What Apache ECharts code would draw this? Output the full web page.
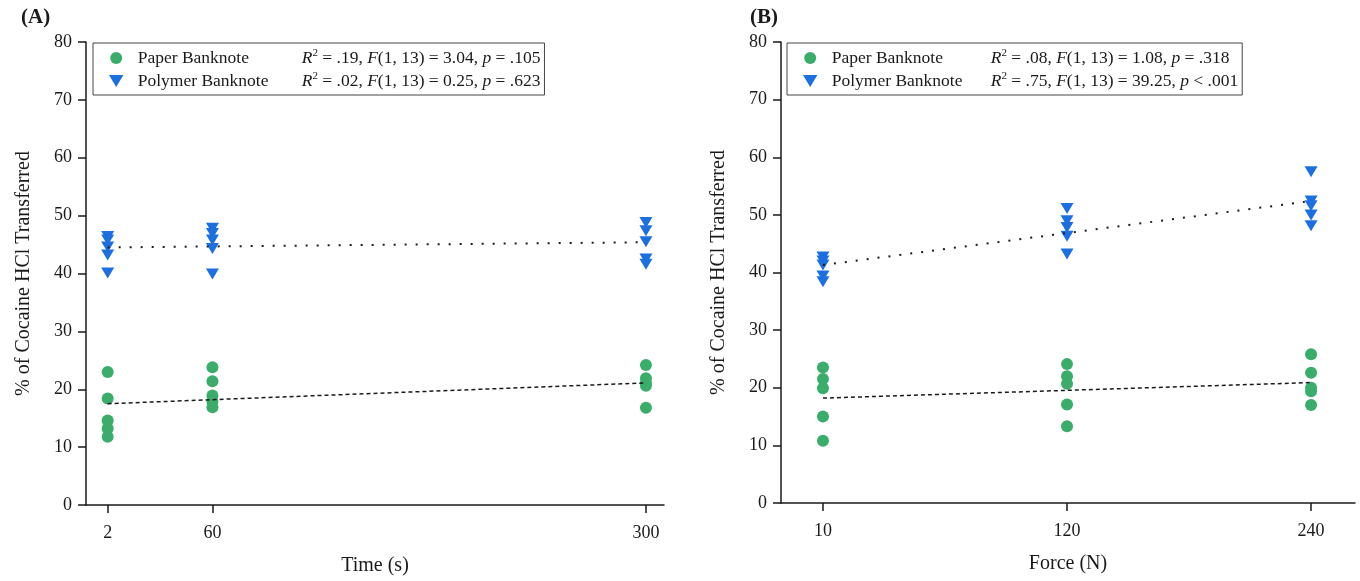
<!DOCTYPE html>
<html>
<head>
<meta charset="utf-8">
<script src="https://cdn.jsdelivr.net/npm/echarts@6/dist/echarts.min.js"></script>
<style>html,body{margin:0;padding:0;background:#fff}#c{width:1360px;height:581px}</style>
</head>
<body>
<div id="c"></div>
<script>
// ---- data ----
const timeTicks = [2, 60, 300];
const forceLabels = ['10', '120', '240'];
const yTicks = [0, 10, 20, 30, 40, 50, 60, 70, 80];

const paperA = [[23.0, 18.4, 14.6, 13.2, 11.8], [23.8, 21.4, 18.9, 17.9, 16.9], [24.2, 21.9, 21.1, 20.6, 16.8]];
const polymerA = [[46.4, 45.8, 44.6, 43.2, 40.1], [47.8, 46.9, 45.8, 44.3, 39.9], [48.8, 47.4, 45.5, 42.5, 41.6]];
const paperB = [[23.5, 21.5, 19.9, 15.0, 10.8], [24.1, 22.0, 20.7, 17.1, 13.3], [25.8, 22.6, 20.0, 19.4, 17.0]];
const polymerB = [[42.7, 42.0, 41.3, 39.4, 38.4], [51.1, 49.0, 47.8, 46.3, 43.2], [57.5, 52.4, 51.6, 50.0, 48.1]];

const trendPaperA = [17.5, 21.1];     // at time 2 and 300
const trendPolymerA = [44.5, 45.4];
const trendPaperB = [18.2, 20.9];     // at force 10 and 240
const trendPolymerB = [41.3, 52.4];

const statsA = {
  'Paper Banknote': ['.19', '3.04', '= .105'],
  'Polymer Banknote': ['.02', '0.25', '= .623']
};
const statsB = {
  'Paper Banknote': ['.08', '1.08', '= .318'],
  'Polymer Banknote': ['.75', '39.25', '< .001']
};

// ---- helpers ----
const GREEN = '#3aad6b';
const BLUE = '#1b6fe0';
const INK = '#1a1a1a';
const FONT = '"Liberation Serif", "Times New Roman", serif';
const TRI = 'path://M0,0 L12,0 L6,10 Z';

function pairs(xs, groups) {
  const out = [];
  groups.forEach((g, i) => g.forEach(v => out.push([xs[i], v])));
  return out;
}

const chart = echarts.init(document.getElementById('c'), null, {renderer: 'canvas'});

function yAxis(gi) {
  return {
    type: 'value', gridIndex: gi, min: 0, max: 80, interval: 10,
    name: '% of Cocaine HCl Transferred', nameLocation: 'middle', nameGap: 52,
    nameTextStyle: {fontFamily: FONT, fontSize: 20, color: INK},
    axisLine: {show: true, onZero: false, lineStyle: {color: INK, width: 1.5}},
    axisTick: {show: true, length: 8, lineStyle: {color: INK, width: 1.5}},
    axisLabel: {fontFamily: FONT, fontSize: 18, color: INK, margin: 14},
    splitLine: {show: false}
  };
}

function legendRich(nameWidth) {
  return {
    n: {fontFamily: FONT, fontSize: 17.5, color: INK, width: nameWidth, lineHeight: 20},
    t: {fontFamily: FONT, fontSize: 17.5, color: INK, lineHeight: 20},
    i: {fontFamily: FONT, fontSize: 17.5, color: INK, fontStyle: 'italic', lineHeight: 20},
    s: {fontFamily: FONT, fontSize: 11, color: INK, lineHeight: 20, verticalAlign: 'top'}
  };
}

function legendFmt(stats) {
  return function (name) {
    const s = stats[name];
    return '{n|' + name + '}{i|R}{s|2}{t| = ' + s[0] + ', }{i|F}{t|(1, 13) = ' + s[1] + ', }{i|p}{t| ' + s[2] + '}';
  };
}

function legend(left, stats, nameWidth, padLeft) {
  return {
    orient: 'vertical', left: left, top: 43,
    data: ['Paper Banknote', 'Polymer Banknote'],
    itemWidth: 33, itemHeight: 12, itemGap: 4,
    padding: [5, 4, 5, padLeft],
    borderColor: '#444', borderWidth: 1,
    selectedMode: false,
    textStyle: {rich: legendRich(nameWidth)},
    formatter: legendFmt(stats)
  };
}

const option = {
  animation: false,
  backgroundColor: '#fff',
  title: [
    {text: '(A)', left: 16, top: 2, textStyle: {fontFamily: FONT, fontSize: 21, fontWeight: 'bold', color: INK}},
    {text: '(B)', left: 745, top: 2, textStyle: {fontFamily: FONT, fontSize: 21, fontWeight: 'bold', color: INK}}
  ],
  legend: [legend(93, statsA, 164, 16), legend(787, statsB, 159, 16)],
  grid: [
    {left: 86, top: 42, width: 578, height: 465},
    {left: 781, top: 42, width: 574, height: 461}
  ],
  xAxis: [
    {
      type: 'value', gridIndex: 0, min: -10, max: 310,
      name: 'Time (s)', nameLocation: 'middle', nameGap: 51,
      nameTextStyle: {fontFamily: FONT, fontSize: 20, color: INK},
      axisLine: {show: true, onZero: false, lineStyle: {color: INK, width: 1.5}},
      axisTick: {show: true, length: 8, customValues: timeTicks, lineStyle: {color: INK, width: 1.5}},
      axisLabel: {fontFamily: FONT, fontSize: 18, color: INK, margin: 19, customValues: timeTicks},
      splitLine: {show: false}
    },
    {
      type: 'value', gridIndex: 1, min: -0.172, max: 2.18,
      name: 'Force (N)', nameLocation: 'middle', nameGap: 51,
      nameTextStyle: {fontFamily: FONT, fontSize: 20, color: INK},
      axisLine: {show: true, onZero: false, lineStyle: {color: INK, width: 1.5}},
      axisTick: {show: true, length: 8, customValues: [0, 1, 2], lineStyle: {color: INK, width: 1.5}},
      axisLabel: {fontFamily: FONT, fontSize: 18, color: INK, margin: 19, customValues: [0, 1, 2],
        formatter: v => forceLabels[Math.round(v)]},
      splitLine: {show: false}
    }
  ],
  yAxis: [yAxis(0), yAxis(1)],
  series: [
    {name: 'Paper Banknote', type: 'scatter', xAxisIndex: 0, yAxisIndex: 0, symbol: 'circle', symbolSize: 12,
      itemStyle: {color: GREEN, opacity: 1}, data: pairs(timeTicks, paperA), z: 3},
    {name: 'Polymer Banknote', type: 'scatter', xAxisIndex: 0, yAxisIndex: 0, symbol: TRI, symbolSize: [13, 11],
      itemStyle: {color: BLUE, opacity: 1}, data: pairs(timeTicks, polymerA), z: 3},
    {name: 'Paper Banknote', type: 'scatter', xAxisIndex: 1, yAxisIndex: 1, symbol: 'circle', symbolSize: 12,
      itemStyle: {color: GREEN, opacity: 1}, data: pairs([0, 1, 2], paperB), z: 3},
    {name: 'Polymer Banknote', type: 'scatter', xAxisIndex: 1, yAxisIndex: 1, symbol: TRI, symbolSize: [13, 11],
      itemStyle: {color: BLUE, opacity: 1}, data: pairs([0, 1, 2], polymerB), z: 3},
    {name: 'trendPaperA', type: 'line', xAxisIndex: 0, yAxisIndex: 0, symbol: 'none', z: 4,
      lineStyle: {color: INK, width: 1.5, type: [4, 3]},
      data: [[timeTicks[0], trendPaperA[0]], [timeTicks[2], trendPaperA[1]]]},
    {name: 'trendPolymerA', type: 'line', xAxisIndex: 0, yAxisIndex: 0, symbol: 'none', z: 4,
      lineStyle: {color: INK, width: 2, type: [2, 9]},
      data: [[timeTicks[0], trendPolymerA[0]], [timeTicks[2], trendPolymerA[1]]]},
    {name: 'trendPaperB', type: 'line', xAxisIndex: 1, yAxisIndex: 1, symbol: 'none', z: 4,
      lineStyle: {color: INK, width: 1.5, type: [4, 3]},
      data: [[0, trendPaperB[0]], [2, trendPaperB[1]]]},
    {name: 'trendPolymerB', type: 'line', xAxisIndex: 1, yAxisIndex: 1, symbol: 'none', z: 4,
      lineStyle: {color: INK, width: 2, type: [2, 9]},
      data: [[0, trendPolymerB[0]], [2, trendPolymerB[1]]]}
  ]
};
chart.setOption(option);
</script>
</body>
</html>
